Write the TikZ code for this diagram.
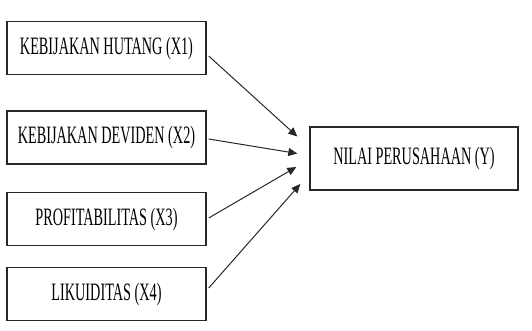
\documentclass[tikz,border=0pt]{standalone}
\usepackage{fontspec}
\newfontfamily\condserif[FakeStretch=0.57]{Liberation Serif}
\usetikzlibrary{arrows.meta}
\definecolor{boxline}{RGB}{40,40,40}
\tikzset{
  varbox/.style={draw=boxline, line width=1.4pt, minimum width=199pt, minimum height=53pt,
    inner sep=0pt, font=\condserif\fontsize{25}{25}\selectfont, text=black},
  link/.style={draw=boxline, line width=1pt, -{Triangle[length=9pt,width=8pt]}}
}
\begin{document}
\begin{tikzpicture}[x=1pt,y=-1pt]
\useasboundingbox (0,0) rectangle (532,330);
\node[varbox] (x1) at (106.5,48) {KEBIJAKAN HUTANG (X1)};
\node[varbox] (x2) at (106.5,137.5) {KEBIJAKAN DEVIDEN (X2)};
\node[varbox] (x3) at (106.5,219) {PROFITABILITAS (X3)};
\node[varbox] (x4) at (106.5,294) {LIKUIDITAS (X4)};
\node[varbox, minimum width=208pt, minimum height=63pt] (y) at (414,158.5) {NILAI PERUSAHAAN (Y)};
\draw[link] ([xshift=2pt,yshift=-8pt]x1.east) -- ([xshift=-12pt,yshift=22pt]y.west);
\draw[link] ([xshift=2pt,yshift=-1.5pt]x2.east) -- ([xshift=-12pt,yshift=5pt]y.west);
\draw[link] ([xshift=2pt,yshift=1pt]x3.east) -- ([xshift=-13pt,yshift=-8.5pt]y.west);
\draw[link] ([xshift=2pt,yshift=6pt]x4.east) -- ([xshift=-9pt,yshift=-25.5pt]y.west);
\end{tikzpicture}
\end{document}
